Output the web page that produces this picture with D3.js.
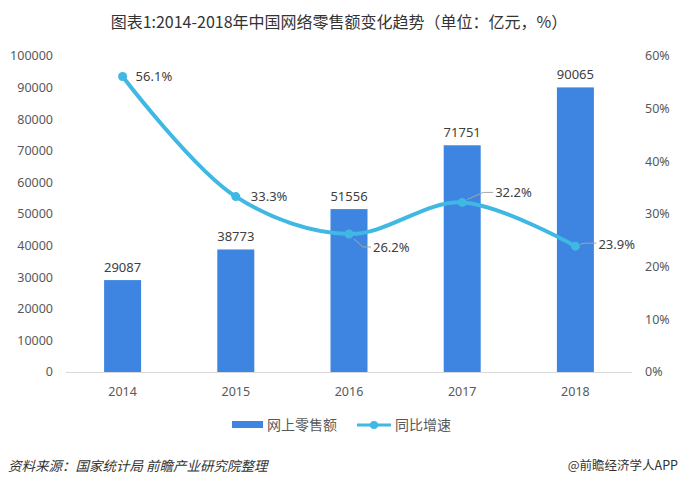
<!DOCTYPE html>
<html><head><meta charset="utf-8">
<script src="https://cdn.jsdelivr.net/npm/d3@7"></script>
<style>
body{margin:0;background:#fff;}
svg{display:block;font-family:"Noto Sans","Open Sans",sans-serif;}
</style></head>
<body>
<svg id="c" width="680" height="485"></svg>
<script>
const categories = ["2014","2015","2016","2017","2018"];
const retailSales = [29087, 38773, 51556, 71751, 90065];
const growthRate = [56.1, 33.3, 26.2, 32.2, 23.9];
const leftTicks = [0,10000,20000,30000,40000,50000,60000,70000,80000,90000,100000];
const rightTicks = [0,10,20,30,40,50,60];
const title = "图表1:2014-2018年中国网络零售额变化趋势（单位：亿元，%）";
const seriesNames = ["网上零售额","同比增速"];
const source = "资料来源：国家统计局 前瞻产业研究院整理";
const credit = "@前瞻经济学人APP";

const svg = d3.select("#c");
const L = 66, R = 632, T = 56, B = 372;
const x = d3.scaleBand().domain(categories).range([L, R]);
const yL = d3.scaleLinear().domain([0,100000]).range([B, T]);
const yR = d3.scaleLinear().domain([0,60]).range([B, T]);
const barW = 37;
const textCol = "#595959";
const barCol = "#3e85e1";
const lineCol = "#3fb8e3";

// title
svg.append("text").attr("x",339).attr("y",28).attr("text-anchor","middle")
  .attr("font-family","'Noto Sans CJK SC',sans-serif").attr("font-size",16).attr("fill","#333")
  .text(title);

// left axis labels
svg.append("g").selectAll("text").data(leftTicks).join("text")
  .attr("x",53).attr("y",d=>yL(d)).attr("dy","0.35em").attr("text-anchor","end")
  .attr("font-size",12.5).attr("fill",textCol).text(d=>d);
// right axis labels
svg.append("g").selectAll("text").data(rightTicks).join("text")
  .attr("x",645).attr("y",d=>yR(d)).attr("dy","0.35em").attr("text-anchor","start")
  .attr("font-size",12.5).attr("fill",textCol).text(d=>d+"%");

// baseline
svg.append("line").attr("x1",L).attr("x2",R).attr("y1",B+0.5).attr("y2",B+0.5)
  .attr("stroke","#d9d9d9").attr("stroke-width",1);
// x labels
svg.append("g").selectAll("text").data(categories).join("text")
  .attr("x",d=>x(d)+x.bandwidth()/2).attr("y",B+20).attr("dy","0.35em").attr("text-anchor","middle")
  .attr("font-size",12.5).attr("fill",textCol).text(d=>d);

// bars
const cx = d=>x(d)+x.bandwidth()/2;
svg.append("g").selectAll("rect").data(categories).join("rect")
  .attr("x",d=>cx(d)-barW/2).attr("width",barW)
  .attr("y",(d,i)=>yL(retailSales[i])).attr("height",(d,i)=>B-yL(retailSales[i]))
  .attr("fill",barCol);
svg.append("g").selectAll("text").data(categories).join("text")
  .attr("x",d=>cx(d)).attr("y",(d,i)=>yL(retailSales[i])-13).attr("dy","0.35em")
  .attr("text-anchor","middle").attr("font-size",13).attr("fill","#404040")
  .text((d,i)=>retailSales[i]);

// line
const pts = categories.map((d,i)=>[cx(d), yR(growthRate[i])]);
svg.append("path").attr("d", d3.line().curve(d3.curveCatmullRom.alpha(0.5))(pts))
  .attr("fill","none").attr("stroke",lineCol).attr("stroke-width",4).attr("stroke-linecap","round");
svg.append("g").selectAll("circle").data(pts).join("circle")
  .attr("cx",d=>d[0]).attr("cy",d=>d[1]).attr("r",4.5).attr("fill",lineCol);

// percent labels
const lab = [
  {dx:13, dy:0, leader:null},
  {dx:15, dy:0, leader:null},
  {dx:24, dy:13, leader:[[5,5],[14,13],[22,13]]},
  {dx:33, dy:-10, leader:[[5,-3],[21,-10],[31,-10]]},
  {dx:23, dy:-2, leader:[[5,-2],[10,-3],[21,-3]]}
];
pts.forEach((p,i)=>{
  const l = lab[i];
  if(l.leader){
    svg.append("path").attr("d", d3.line()(l.leader.map(q=>[p[0]+q[0], p[1]+q[1]])))
      .attr("fill","none").attr("stroke","#a6a6a6").attr("stroke-width",1);
  }
  svg.append("text").attr("x",p[0]+l.dx).attr("y",p[1]+l.dy).attr("dy","0.35em")
    .attr("font-size",13).attr("fill","#404040").text(growthRate[i].toFixed(1)+"%");
});

// legend
const lg = svg.append("g").attr("font-family","'Noto Sans CJK SC',sans-serif").attr("font-size",14).attr("fill",textCol);
lg.append("rect").attr("x",232).attr("y",421).attr("width",31).attr("height",7).attr("fill",barCol);
lg.append("text").attr("x",267).attr("y",425).attr("dy","0.35em").text(seriesNames[0]);
lg.append("line").attr("x1",357).attr("x2",391).attr("y1",425).attr("y2",425).attr("stroke",lineCol).attr("stroke-width",3);
lg.append("circle").attr("cx",374).attr("cy",425).attr("r",4).attr("fill",lineCol);
lg.append("text").attr("x",395).attr("y",425).attr("dy","0.35em").text(seriesNames[1]);

// footer
svg.append("text").attr("x",8).attr("y",466).attr("dy","0.35em")
  .attr("font-family","'Noto Sans CJK SC',sans-serif").attr("font-size",13.5).attr("font-style","italic")
  .attr("fill","#333").text(source);
svg.append("text").attr("x",678).attr("y",466).attr("dy","0.35em").attr("text-anchor","end")
  .attr("font-family","'Noto Sans CJK SC',sans-serif").attr("font-size",12.5).attr("fill","#333").text(credit);
</script>
</body></html>
